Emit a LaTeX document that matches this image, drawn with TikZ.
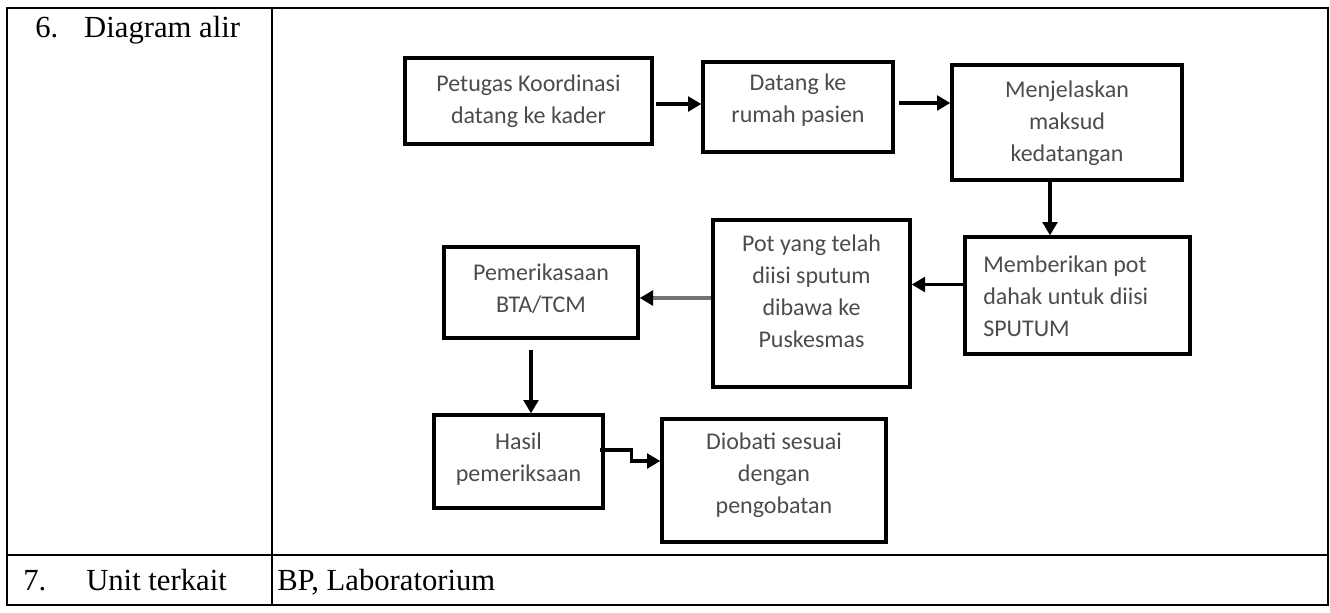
\documentclass[tikz,border=0pt]{standalone}
\usepackage{fontspec}
\setmainfont{Liberation Serif}
\newfontfamily\boxfont{Carlito}
\usetikzlibrary{arrows.meta,calc,fit}
\begin{document}
\begin{tikzpicture}[x=0.75pt,y=-0.75pt,
  box/.style={draw, line width=2.5pt, inner sep=0pt},
  txt/.style={font=\boxfont\fontsize{18}{24}\selectfont, text=black!70, align=center, inner sep=0pt, anchor=north},
  arr/.style={line width=2.6pt, -{Triangle[length=10pt,width=11pt,color=black]}},
  tbl/.style={line width=1.5pt},
  cell/.style={font=\fontsize{23}{27}\selectfont, inner sep=0pt, anchor=base west}]
\useasboundingbox (0,0) rectangle (1330,612);
% table
\draw[tbl] (7,8) rectangle (1328,605);
\draw[tbl] (272,8) -- (272,605);
\draw[tbl] (7,555) -- (1328,555);
\node[cell] (c6) at (35,37) {6.\hspace{19.5pt}Diagram alir};
\node[cell] (c7) at (23,590) {7.\hspace{30pt}Unit terkait};
\node[cell] (c7b) at (277,590) {BP, Laboratorium};
% boxes
\node[box, fit={(405,58) (652,144)}] (b1) {};
\node[box, fit={(703,62) (893,152)}] (b2) {};
\node[box, fit={(952,65) (1182,180)}] (b3) {};
\node[box, fit={(965,237) (1190,354)}] (b4) {};
\node[box, fit={(713,220) (910,387)}] (b5) {};
\node[box, fit={(444,247) (638,338)}] (b6) {};
\node[box, fit={(434,415) (603,508)}] (b7) {};
\node[box, fit={(662,419) (886,542)}] (b8) {};
% texts
\node[txt] (t1) at ($(b1.north)+(0,18)$) {Petugas Koordinasi\\datang ke kader};
\node[txt] (t2) at ($(b2.north)+(0,13)$) {Datang ke\\rumah pasien};
\node[txt] (t3) at ($(b3.north)+(0,17)$) {Menjelaskan\\maksud\\kedatangan};
\node[txt, anchor=north west, align=left] (t4) at (983,256) {Memberikan pot\\dahak untuk diisi\\SPUTUM};
\node[txt] (t5) at ($(b5.north)+(0,16)$) {Pot yang telah\\diisi sputum\\dibawa ke\\Puskesmas};
\node[txt] (t6) at ($(b6.north)+(0,18)$) {Pemerikasaan\\BTA/TCM};
\node[txt] (t7) at ($(b7.north)+(0,19)$) {Hasil\\pemeriksaan};
\node[txt] (t8) at ($(b8.north)+(0,15)$) {Diobati sesuai\\dengan\\pengobatan};
% connectors
\draw[arr] ($(b1.east)+(2,3)$) -- ($(b1.east -| b2.west)+(0,3)$);
\draw[arr] ($(b2.east)+(4,-4)$) -- ($(b2.east -| b3.west)+(0,-4)$);
\coordinate (p34) at ($(b3.south)+(-17,0)$);
\draw[arr] (p34) -- (p34 |- b4.north);
\draw[arr] ($(b4.west)+(0,-11)$) -- ($(b4.west -| b5.east)+(0,-11)$);
\draw[arr, draw=black!55] ($(b5.west)+(0,-5.5)$) -- ($(b5.west -| b6.east)+(0,-5.5)$);
\coordinate (p67) at ($(b6.south)+(-10,10)$);
\draw[arr] (p67) -- (p67 |- b7.north);
\coordinate (s78) at ($(b7.east)+(-5,-11.5)$);
\draw[arr] (s78) -- ++(32,0) |- ($(b8.west)+(0,-19.5)$);
\end{tikzpicture}
\end{document}
